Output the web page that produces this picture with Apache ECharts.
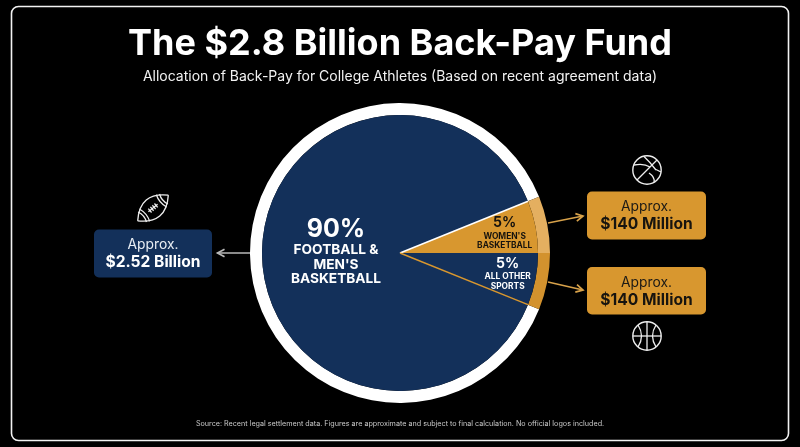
<!DOCTYPE html>
<html><head><meta charset="utf-8">
<style>html,body{margin:0;padding:0;background:#000}#c{width:800px;height:447px}</style>
<script src="https://cdn.jsdelivr.net/npm/echarts@6/dist/echarts.min.js"></script>
</head><body><div id="c"></div>
<script>
const categories = ["FOOTBALL &\nMEN'S\nBASKETBALL", "WOMEN'S\nBASKETBALL", "ALL OTHER\nSPORTS"];
const shares = [90, 5, 5];
const amounts = ["$2.52 Billion", "$140 Million", "$140 Million"];
const titleText = "The $2.8 Billion Back-Pay Fund";
const subtitleText = "Allocation of Back-Pay for College Athletes (Based on recent agreement data)";
const sourceText = "Source: Recent legal settlement data. Figures are approximate and subject to final calculation. No official logos included.";

const NAVY = '#13305a', ORANGE = '#d8972f', RING_LIGHT = '#e4af60', RING_MID = '#d3922e', FONT = 'Inter';
const CX = 400, CY = 253, R = 150, RI = 138, WEDGE = 22;
const rad = WEDGE * Math.PI / 180;

const chart = echarts.init(document.getElementById('c'), null, {renderer: 'canvas'});

function box(x, y, w, h, fill, amount) {
  return [
    {type: 'rect', shape: {x, y, width: w, height: h, r: 5}, style: {fill}},
    {type: 'text', style: {x: x + w / 2, y: y + 15.5, text: 'Approx.', fill: fill === NAVY ? '#e8edf3' : '#1c1a16', font: `400 13.8px ${FONT}`, align: 'center', verticalAlign: 'middle'}},
    {type: 'text', style: {x: x + w / 2, y: y + 33, text: amount, fill: fill === NAVY ? '#fff' : '#17140f', font: `700 15.6px ${FONT}`, align: 'center', verticalAlign: 'middle'}}
  ];
}
function arrow(x1, y1, x2, y2, color) {
  const a = Math.atan2(y2 - y1, x2 - x1), L = 8, s = 0.5;
  const p = (t) => [x2 - L * Math.cos(a + t), y2 - L * Math.sin(a + t)];
  return [
    {type: 'line', shape: {x1, y1, x2, y2}, style: {stroke: color, lineWidth: 1.5}},
    {type: 'polyline', shape: {points: [p(s), [x2, y2], p(-s)]}, style: {stroke: color, lineWidth: 1.7, fill: null}}
  ];
}
function curve(x1, y1, cx, cy, x2, y2) {
  return {type: 'bezierCurve', shape: {x1, y1, cpx1: cx, cpy1: cy, x2, y2}, style: {stroke: '#eee', lineWidth: 1.3, fill: null}};
}
function seg(x1, y1, x2, y2) {
  return {type: 'line', shape: {x1, y1, x2, y2}, style: {stroke: '#eee', lineWidth: 1.3}};
}
const ringShape = () => ({type: 'circle', shape: {cx: 0, cy: 0, r: 14.2}, style: {stroke: '#eee', lineWidth: 1.4, fill: null}});
const ballTilted = {type: 'group', x: 647, y: 170, children: [
  ringShape(),
  seg(-10, 10, 10, -10),
  curve(-13, -5, -3, -7, 3, -3),
  curve(-3, -13.5, 3, -8, 9, 0),
  curve(2, 3, 8, 7, 7, 12),
  curve(9, -0.5, 12, 1, 14, 2)
]};
const ballStraight = {type: 'group', x: 647, y: 336, children: [
  ringShape(),
  seg(-14, 0, 14, 0),
  seg(0, -14, 0, 14),
  curve(-9, -11, -2, 0, -9, 11),
  curve(9, -11, 2, 0, 9, 11)
]};
const football = {type: 'group', x: 153, y: 208, rotation: 40 * Math.PI / 180, children: [
  curve(-20, 0, 0, -21, 20, 0),
  curve(-20, 0, 0, 21, 20, 0),
  curve(-14, -6.5, -11, 0, -14, 6.5),
  curve(-11, -8, -8, 0, -11, 8),
  curve(14, -6.5, 11, 0, 14, 6.5),
  curve(11, -8, 8, 0, 11, 8),
  seg(-6, 0, 6, 0),
  seg(-4, -2.5, -4, 2.5), seg(-1.3, -2.5, -1.3, 2.5), seg(1.3, -2.5, 1.3, 2.5), seg(4, -2.5, 4, 2.5)
]};

const pieData = categories.map((c, i) => ({name: c, value: shares[i]}));
const labelFor = (dx, dy, pctSize, nameSize, color, lh) => ({
  show: true, position: 'inside', offset: [dx, dy], color, fontFamily: FONT, align: 'center',
  formatter: (p) => `{p|${p.value}%}\n{n|${p.name.split('\n').join('}\n{n|')}}`,
  rich: {
    p: {fontSize: pctSize, fontWeight: 700, color, fontFamily: FONT, lineHeight: pctSize + 2, align: 'center'},
    n: {fontSize: nameSize, fontWeight: 700, color, fontFamily: FONT, lineHeight: lh, align: 'center'}
  }
});

chart.setOption({
  animation: false,
  backgroundColor: '#000',
  title: [
    {text: titleText, left: 395, top: 21, textAlign: 'center', textStyle: {color: '#fff', fontFamily: FONT, fontWeight: 700, fontSize: 36}},
    {text: subtitleText, left: 395, top: 65, textAlign: 'center', textStyle: {color: '#f2f2f2', fontFamily: FONT, fontWeight: 400, fontSize: 14}},
    {text: sourceText, left: 395, top: 415, textAlign: 'center', textStyle: {color: '#c9c9c9', fontFamily: FONT, fontWeight: 400, fontSize: 7.2}}
  ],
  series: [
    {type: 'pie', z: 1, center: [CX, CY], radius: [RI, R], startAngle: 360 - WEDGE, minAngle: WEDGE, clockwise: true, silent: true,
     label: {show: false}, labelLine: {show: false},
     data: pieData.map((d, i) => ({...d, itemStyle: {color: ['#fff', RING_LIGHT, RING_MID][i]}}))},
    {type: 'pie', z: 2, center: [CX, CY], radius: [0, RI], startAngle: 360 - WEDGE, minAngle: WEDGE, clockwise: true, silent: true,
     avoidLabelOverlap: false, labelLine: {show: false},
     data: pieData.map((d, i) => ({...d,
       itemStyle: {color: [NAVY, ORANGE, NAVY][i]},
       label: [labelFor(8, -2, 25, 13.7, '#fff', 14.6),
               labelFor(34, -6.5, 14, 8.4, '#16130e', 9.5),
               labelFor(37, 6.5, 14, 8.4, '#fff', 9.8)][i]
     }))}
  ],
  graphic: {elements: [
    {type: 'rect', z: 100, shape: {x: 11.5, y: 6.5, width: 777, height: 434, r: 7}, style: {fill: null, stroke: '#f2f2f2', lineWidth: 1.6}},
    {type: 'line', z: 100, shape: {x1: CX, y1: CY, x2: CX + RI * Math.cos(rad), y2: CY - RI * Math.sin(rad)}, style: {stroke: '#fff', lineWidth: 1.6}},
    {type: 'line', z: 100, shape: {x1: CX, y1: CY, x2: CX + RI * Math.cos(rad), y2: CY + RI * Math.sin(rad)}, style: {stroke: ORANGE, lineWidth: 1.4}},
    ...box(94, 229.5, 118, 48, NAVY, amounts[0]),
    ...box(587, 191.5, 119, 48, ORANGE, amounts[1]),
    ...box(587, 267, 119, 47.5, ORANGE, amounts[2]),
    ...arrow(250, 253, 217.5, 253, '#b9b9b9'),
    ...arrow(548, 223, 583, 216, '#d8a24a'),
    ...arrow(548, 282, 583, 290, '#d8a24a'),
    ballTilted, ballStraight, football
  ]}
});
</script></body></html>
